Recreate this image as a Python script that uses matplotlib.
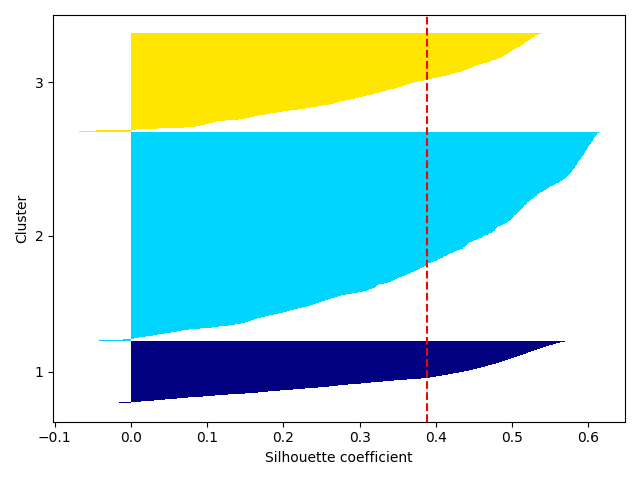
import numpy as np
import matplotlib
matplotlib.use("Agg")
import matplotlib.pyplot as plt
from matplotlib import cm

cluster_labels = [1, 2, 3]

# sorted silhouette values per cluster
sil_cluster1 = [
    -0.016, 0.013, 0.030, 0.045, 0.060, 0.075, 0.094, 0.110, 0.127, 0.150,
    0.166, 0.180, 0.195, 0.212, 0.228, 0.245, 0.260, 0.272, 0.285, 0.302,
    0.315, 0.330, 0.345, 0.362, 0.380, 0.392, 0.400, 0.408, 0.416, 0.423,
    0.430, 0.437, 0.443, 0.449, 0.454, 0.459, 0.464, 0.469, 0.474, 0.479,
    0.483, 0.487, 0.491, 0.495, 0.499, 0.503, 0.507, 0.510, 0.514, 0.518,
    0.521, 0.525, 0.529, 0.533, 0.537, 0.541, 0.545, 0.549, 0.553, 0.558,
    0.563, 0.569,
]

sil_cluster2 = [
    -0.042, -0.011, 0.004, 0.010, 0.020, 0.029, 0.036, 0.044, 0.053, 0.060,
    0.067, 0.076, 0.090, 0.106, 0.116, 0.128, 0.137, 0.144, 0.149, 0.153,
    0.157, 0.161, 0.165, 0.170, 0.176, 0.181, 0.187, 0.194, 0.199, 0.205,
    0.209, 0.214, 0.219, 0.225, 0.231, 0.235, 0.239, 0.243, 0.247, 0.251,
    0.255, 0.259, 0.263, 0.267, 0.271, 0.276, 0.282, 0.290, 0.298, 0.305,
    0.309, 0.312, 0.316, 0.320, 0.322, 0.323, 0.325, 0.332, 0.337, 0.341,
    0.344, 0.346, 0.349, 0.352, 0.356, 0.359, 0.362, 0.366, 0.368, 0.371,
    0.374, 0.377, 0.379, 0.382, 0.385, 0.387, 0.389, 0.390, 0.393, 0.398,
    0.401, 0.403, 0.406, 0.409, 0.411, 0.414, 0.416, 0.419, 0.422, 0.425,
    0.428, 0.432, 0.435, 0.438, 0.439, 0.441, 0.442, 0.444, 0.447, 0.450,
    0.454, 0.457, 0.460, 0.462, 0.465, 0.468, 0.470, 0.473, 0.475, 0.477,
    0.478, 0.479, 0.480, 0.481, 0.485, 0.488, 0.491, 0.493, 0.495, 0.497,
    0.498, 0.500, 0.501, 0.502, 0.503, 0.505, 0.506, 0.508, 0.509, 0.511,
    0.512, 0.513, 0.514, 0.515, 0.516, 0.518, 0.519, 0.520, 0.522, 0.523,
    0.525, 0.527, 0.529, 0.530, 0.532, 0.533, 0.535, 0.537, 0.540, 0.542,
    0.544, 0.546, 0.548, 0.550, 0.553, 0.556, 0.558, 0.561, 0.563, 0.565,
    0.567, 0.569, 0.571, 0.572, 0.573, 0.574, 0.576, 0.577, 0.578, 0.579,
    0.580, 0.581, 0.582, 0.583, 0.584, 0.585, 0.585, 0.586, 0.587, 0.588,
    0.589, 0.590, 0.591, 0.592, 0.593, 0.594, 0.594, 0.595, 0.596, 0.597,
    0.598, 0.598, 0.599, 0.600, 0.601, 0.602, 0.603, 0.604, 0.605, 0.606,
    0.606, 0.607, 0.608, 0.609, 0.610, 0.611, 0.612, 0.614,
]

sil_cluster3 = [
    -0.068, -0.046, 0.006, 0.035, 0.070, 0.085, 0.092, 0.097, 0.102, 0.107,
    0.112, 0.125, 0.142, 0.150, 0.156, 0.162, 0.168, 0.176, 0.182, 0.192,
    0.200, 0.208, 0.219, 0.228, 0.236, 0.244, 0.252, 0.261, 0.266, 0.270,
    0.274, 0.281, 0.288, 0.294, 0.299, 0.304, 0.310, 0.316, 0.320, 0.325,
    0.330, 0.335, 0.340, 0.346, 0.350, 0.354, 0.358, 0.362, 0.366, 0.371,
    0.376, 0.384, 0.390, 0.395, 0.402, 0.408, 0.414, 0.419, 0.424, 0.428,
    0.434, 0.437, 0.441, 0.444, 0.447, 0.450, 0.454, 0.457, 0.462, 0.467,
    0.471, 0.474, 0.479, 0.482, 0.485, 0.488, 0.490, 0.492, 0.494, 0.496,
    0.498, 0.500, 0.502, 0.505, 0.507, 0.510, 0.512, 0.514, 0.516, 0.517,
    0.519, 0.521, 0.523, 0.525, 0.527, 0.530, 0.534, 0.538,
]

silhouette_avg = 0.388

clusters = [sil_cluster1, sil_cluster2, sil_cluster3]
n_clusters = len(clusters)

fig, ax = plt.subplots(figsize=(6.4, 4.8), dpi=100)
y_lower, y_upper = 0, 0
yticks = []
for i, vals in enumerate(clusters):
    vals = np.sort(np.asarray(vals))
    y_upper += len(vals)
    color = cm.jet(float(i) / n_clusters)
    ax.barh(range(y_lower, y_upper), vals, height=1.0,
            edgecolor='none', color=color)
    yticks.append((y_lower + y_upper) / 2.0)
    y_lower += len(vals)

ax.axvline(silhouette_avg, color='red', linestyle='--')
ax.set_yticks(yticks)
ax.set_yticklabels(cluster_labels)
ax.set_ylabel('Cluster')
ax.set_xlabel('Silhouette coefficient')
fig.tight_layout()
fig.savefig('out.png', dpi=100)
